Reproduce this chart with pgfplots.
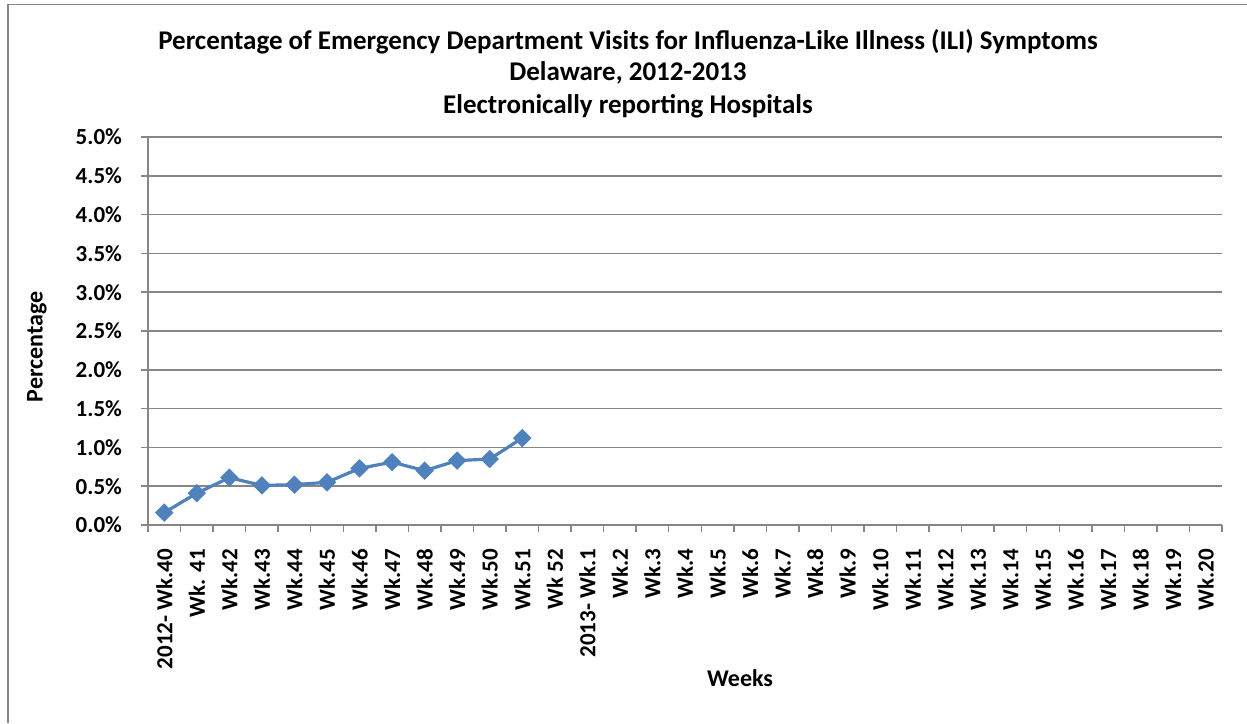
\documentclass[border=0pt]{standalone}
\usepackage{fontspec}
\setmainfont{Carlito}
\usepackage{pgfplots}
\pgfplotsset{compat=1.18}
\definecolor{serblue}{HTML}{4F81BD}
\definecolor{gridgray}{HTML}{868686}
\begin{document}
\begin{tikzpicture}
\path[use as bounding box] (0,0) rectangle (623.5pt,361.5pt);
\draw[gridgray, line width=0.75pt] (4pt,0) -- (4pt,359.25pt) -- (623.5pt,359.25pt);
\begin{axis}[
  at={(74pt,99pt)}, anchor=south west,
  scale only axis, width=537pt, height=194pt,
  xmin=-0.5, xmax=32.5, ymin=0, ymax=5,
  axis x line=bottom, axis y line=left,
  axis line style={-, gridgray, line width=0.75pt},
  xtick={0,...,32},
  xticklabels={2012- Wk.40,Wk. 41,Wk.42,Wk.43,Wk.44,Wk.45,Wk.46,Wk.47,Wk.48,Wk.49,Wk.50,Wk.51,Wk 52,2013- Wk.1,Wk.2,Wk.3,Wk.4,Wk.5,Wk.6,Wk.7,Wk.8,Wk.9,Wk.10,Wk.11,Wk.12,Wk.13,Wk.14,Wk.15,Wk.16,Wk.17,Wk.18,Wk.19,Wk.20},
  major x tick style={draw=none},
  minor xtick={-0.5,0.5,...,32.5},
  minor x tick style={gridgray, line width=0.75pt},
  minor tick length=3.5pt,
  ytick={0,0.5,...,5},
  yticklabels={0.0\%,0.5\%,1.0\%,1.5\%,2.0\%,2.5\%,3.0\%,3.5\%,4.0\%,4.5\%,5.0\%},
  major y tick style={gridgray, line width=0.75pt},
  major tick length=3.5pt,
  tick align=outside,
  ymajorgrids,
  major grid style={gridgray, line width=0.75pt},
  xticklabel style={rotate=90, anchor=east, font=\fontsize{11.5pt}{12pt}\selectfont\bfseries, xshift=-5pt},
  yticklabel style={anchor=east, font=\fontsize{11.5pt}{12pt}\selectfont\bfseries, xshift=-6pt},
  clip=false,
]
\addplot[serblue, line width=1.6pt, mark=square*, mark size=3pt, mark options={rotate=45, fill=serblue, draw=serblue, line width=0.5pt}]
coordinates {
(0,0.16) (1,0.41) (2,0.61) (3,0.51) (4,0.52) (5,0.55) (6,0.73) (7,0.81) (8,0.70) (9,0.83) (10,0.85) (11,1.12)
};
\end{axis}
\node[font=\fontsize{13.5pt}{14pt}\selectfont\bfseries] at (314pt,340.5pt) {Percentage of Emergency Department Visits for Influenza-Like Illness (ILI) Symptoms};
\node[font=\fontsize{13.5pt}{14pt}\selectfont\bfseries] at (314pt,325pt) {Delaware, 2012-2013};
\node[font=\fontsize{13.5pt}{14pt}\selectfont\bfseries] at (314pt,308.5pt) {Electronically reporting Hospitals};
\node[font=\fontsize{12pt}{13pt}\selectfont\bfseries] at (370pt,22.5pt) {Weeks};
\node[font=\fontsize{12pt}{13pt}\selectfont\bfseries, rotate=90] at (18.5pt,188pt) {Percentage};
\end{tikzpicture}
\end{document}
